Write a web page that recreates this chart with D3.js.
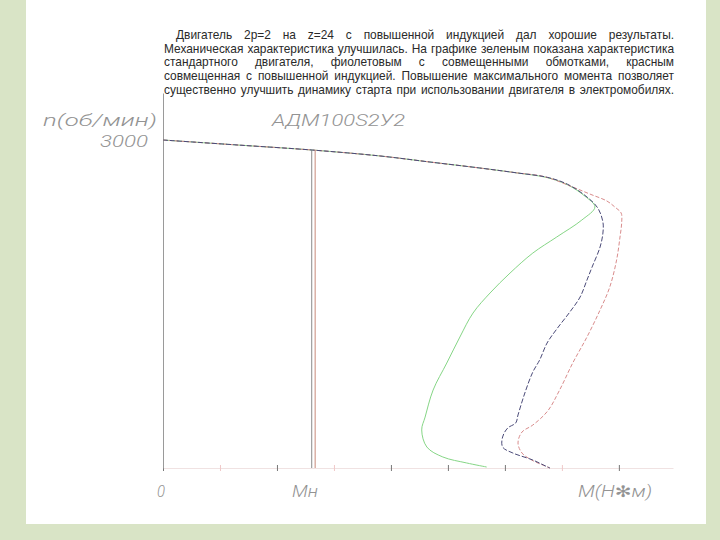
<!DOCTYPE html>
<html><head><meta charset="utf-8">
<script src="https://cdn.jsdelivr.net/npm/d3@7"></script>
<style>
html,body{margin:0;padding:0;background:#d9e4c6;}
svg{display:block;}
</style></head>
<body>
<svg id="chart" width="720" height="540"></svg>
<script>
// ---------- data ----------
const paragraphLines = [
  "Двигатель 2p=2 на z=24 с повышенной индукцией дал хорошие результаты.",
  "Механическая характеристика улучшилась. На графике зеленым показана характеристика",
  "стандартного двигателя, фиолетовым с совмещенными обмотками, красным",
  "совмещенная с повышенной индукцией. Повышение максимального момента позволяет",
  "существенно улучшить динамику старта при использовании двигателя в электромобилях."
];
const xTicks = [0, 1, 2, 3, 4, 5, 6, 7, 8];
const nominalM = [2.61, 2.67];
// common upper branch (M in axis-tick units, n in rpm)
const commonM = [0, 1.32, 2.63, 3.81, 4.68, 5.56, 6.20];
const commonN = [3000, 2954, 2908, 2854, 2799, 2744, 2700];
// standard motor (green)
const greenM = [6.75, 7.10, 7.40, 7.58, 7.35, 6.91, 6.49, 6.09, 5.74, 5.44, 5.21, 4.98, 4.74, 4.60, 4.54, 4.63, 4.91, 5.33, 5.68];
const greenN = [2655, 2590, 2488, 2388, 2268, 2113, 1966, 1783, 1601, 1417, 1198, 960, 713, 466, 348, 192, 101, 46, 9];
// combined windings (violet)
const violetM = [6.75, 7.10, 7.44, 7.63, 7.72, 7.72, 7.67, 7.53, 7.44, 7.32, 7.14, 6.91, 6.74, 6.61, 6.49, 6.35, 6.23, 6.19, 6.05, 5.96, 5.96, 6.14, 6.49, 6.75, 6.79];
const violetN = [2658, 2595, 2479, 2378, 2250, 2149, 2021, 1838, 1719, 1564, 1427, 1271, 1143, 988, 878, 686, 485, 412, 366, 284, 192, 137, 73, 9, 0];
// increased induction (red)
const redM = [6.70, 7.19, 7.49, 7.79, 7.93, 8.04, 8.05, 8.02, 7.96, 7.84, 7.67, 7.44, 7.19, 6.96, 6.75, 6.49, 6.30, 6.23, 6.30, 6.47, 6.75, 6.79];
const redN = [2664, 2570, 2506, 2442, 2387, 2332, 2250, 2113, 1902, 1655, 1445, 1198, 960, 713, 521, 393, 329, 229, 137, 73, 9, 0];

// ---------- drawing ----------
const svg = d3.select("#chart");
svg.append("rect").attr("x", 0).attr("y", 0).attr("width", 720).attr("height", 540).attr("fill", "#d9e4c6");
svg.append("rect").attr("x", 26).attr("y", 0).attr("width", 680).attr("height", 524).attr("fill", "#ffffff");

// paragraph, justified
const pLeft = 164, pRight = 674, firstIndent = 176;
const pFont = "Liberation Sans, Arial, sans-serif";
const probe = svg.append("text").attr("font-family", pFont).attr("font-size", 11).text(paragraphLines[1]);
const probeW = probe.node().getComputedTextLength();
probe.remove();
const pSize = Math.min(13, 11 * (pRight - pLeft - 4) / probeW);
paragraphLines.forEach((line, i) => {
  const words = line.split(" ");
  const baseY = 39 + i * 13.7;
  const g = svg.append("g");
  const nodes = words.map(w => g.append("text").text(w)
      .attr("font-family", pFont)
      .attr("font-size", pSize).attr("fill", "#2a2a2a").attr("y", baseY));
  const widths = nodes.map(n => n.node().getComputedTextLength());
  const left = i === 0 ? firstIndent : pLeft;
  const total = d3.sum(widths);
  const gap = (pRight - left - total) / (words.length - 1);
  let x = left;
  nodes.forEach((n, k) => { n.attr("x", x); x += widths[k] + gap; });
});

const x = d3.scaleLinear().domain([0, 8.95]).range([163, 673]);
const y = d3.scaleLinear().domain([0, 3430]).range([468, 93]);

// x axis
const xAxis = d3.axisBottom(x).tickValues(xTicks).tickFormat("").tickSizeOuter(0).tickSizeInner(3);
const ax = svg.append("g").attr("transform", `translate(0,${y(0)})`).call(xAxis);
ax.select(".domain").attr("stroke", "#f0e2e2").attr("stroke-width", 1);
ax.selectAll(".tick line").attr("y1", -3).attr("y2", 3)
  .attr("stroke", d => (d === 1 || d === 3 || d === 7) ? "#f0c8c8" : "#777");

// y axis
const yAxis = d3.axisLeft(y).tickValues([]).tickSizeOuter(0);
const ay = svg.append("g").attr("transform", `translate(${x(0)},0)`).call(yAxis);
ay.select(".domain").attr("stroke", "#9a9a9a").attr("stroke-width", 1);

// nominal torque lines
const nAtNom = 2908;
svg.append("line").attr("x1", x(nominalM[0])).attr("x2", x(nominalM[0]))
  .attr("y1", y(nAtNom)).attr("y2", y(0)).attr("stroke", "#8a8a8a").attr("stroke-width", 1);
svg.append("line").attr("x1", x(nominalM[1])).attr("x2", x(nominalM[1]))
  .attr("y1", y(nAtNom)).attr("y2", y(0)).attr("stroke", "#c88a7a").attr("stroke-width", 1);

const line = d3.line().x(d => x(d[0])).y(d => y(d[1])).curve(d3.curveCatmullRom.alpha(0.5));
function series(ms, ns) {
  return commonM.map((m, i) => [m, commonN[i]]).concat(ms.map((m, i) => [m, ns[i]]));
}
svg.append("path").attr("d", line(series(greenM, greenN))).attr("fill", "none")
  .attr("stroke", "#86d686").attr("stroke-width", 1);
svg.append("path").attr("d", line(series(redM, redN))).attr("fill", "none")
  .attr("stroke", "#d98c8c").attr("stroke-width", 1).attr("stroke-dasharray", "4,2");
svg.append("path").attr("d", line(series(violetM, violetN))).attr("fill", "none")
  .attr("stroke", "#4a4a78").attr("stroke-width", 1).attr("stroke-dasharray", "5,2");

// CAD-style labels
function cad(txt, x0, yb, w, size) {
  svg.append("text").text(txt).attr("x", x0).attr("y", yb)
    .attr("font-family", "Roboto, DejaVu Sans, sans-serif").attr("font-weight", 300)
    .attr("font-style", "italic").attr("font-size", size).attr("fill", "#939393")
    .attr("textLength", w).attr("lengthAdjust", "spacingAndGlyphs");
}
cad("n(об/мин)", 43, 126, 114, 16);
cad("3000", 100, 147, 48, 16);
cad("АДМ100S2У2", 272, 126, 133, 16);
cad("0", 157, 497, 8, 16);
cad("Мн", 292, 497, 26, 16);
cad("М(Н✻м)", 578, 497, 74, 16);
</script>
</body></html>
